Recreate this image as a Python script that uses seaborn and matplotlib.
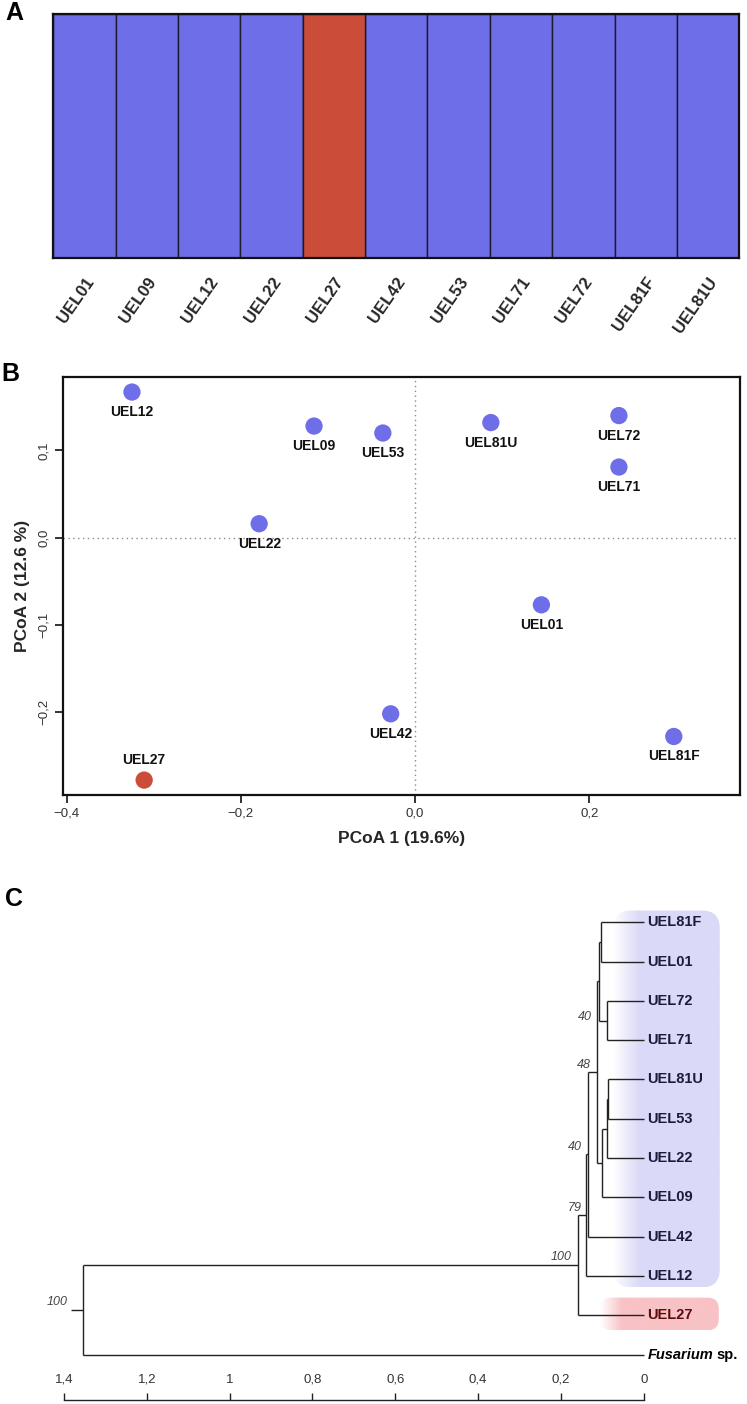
import numpy as np
import pandas as pd
import matplotlib.pyplot as plt
import seaborn as sns
from matplotlib.patches import FancyBboxPatch

BLUE = "#6E6EE8"
RED = "#CC4C3A"

# A: cluster membership per isolate (K=2)
samples = ["UEL01", "UEL09", "UEL12", "UEL22", "UEL27", "UEL42",
           "UEL53", "UEL71", "UEL72", "UEL81F", "UEL81U"]
q_blue = [1, 1, 1, 1, 0, 1, 1, 1, 1, 1, 1]
q_red  = [0, 0, 0, 0, 1, 0, 0, 0, 0, 0, 0]

# B: PCoA coordinates
pcoa_ids   = ["UEL12", "UEL09", "UEL53", "UEL81U", "UEL72", "UEL71",
              "UEL22", "UEL01", "UEL42", "UEL81F", "UEL27"]
pcoa1      = [-0.325, -0.116, -0.037, 0.087, 0.234, 0.234,
              -0.179, 0.145, -0.028, 0.297, -0.311]
pcoa2      = [0.167, 0.128, 0.120, 0.132, 0.140, 0.081,
              0.016, -0.077, -0.202, -0.228, -0.278]
pcoa_group = ["blue"] * 10 + ["red"]
labels_above = ["UEL27"]

# C: tree (leaf order top to bottom, internal nodes as pairs of children)
leaves = ["UEL81F", "UEL01", "UEL72", "UEL71", "UEL81U", "UEL53",
          "UEL22", "UEL09", "UEL42", "UEL12", "UEL27", "Fusarium sp."]
node_children = [("UEL81F", "UEL01"), ("UEL72", "UEL71"), ("n0", "n1"),
                 ("UEL81U", "UEL53"), ("n3", "UEL22"), ("n4", "UEL09"),
                 ("n2", "n5"), ("n6", "UEL42"), ("n7", "UEL12"),
                 ("n8", "UEL27"), ("n9", "Fusarium sp.")]
node_heights = [0.104, 0.090, 0.108, 0.087, 0.089, 0.101,
                0.113, 0.135, 0.140, 0.160, 1.353]
node_support = [None, 40, None, None, None, None, 48, 40, 79, 100, 100]
root_stub = 1.383
tree_ticks = [1.4, 1.2, 1.0, 0.8, 0.6, 0.4, 0.2, 0.0]
tree_ticklabels = ["1,4", "1,2", "1", "0,8", "0,6", "0,4", "0,2", "0"]

sns.set_theme(style="white")
plt.rcParams["font.family"] = ["Liberation Sans", "DejaVu Sans"]

W, H = 747, 1404
fig = plt.figure(figsize=(W / 100, H / 100), dpi=100)


def px_axes(left, top, right, bottom):
    return fig.add_axes([left / W, 1 - bottom / H, (right - left) / W, (bottom - top) / H])


ax_a = px_axes(53.3, 14, 739.3, 257.7)
ax_b = px_axes(62.7, 376.7, 740, 795)
ax_c = px_axes(0, 880, 747, 1400)

# ---------- A ----------
df_a = pd.DataFrame({"sample": samples, "blue": q_blue, "red": q_red})
df_a["total"] = df_a["blue"] + df_a["red"]
sns.barplot(data=df_a, x="sample", y="total", color=BLUE, saturation=1,
            width=1.0, edgecolor="#1a1a2a", linewidth=1.0, errorbar=None, ax=ax_a)
sns.barplot(data=df_a, x="sample", y="red", color=RED, saturation=1,
            width=1.0, edgecolor="#1a1a2a", linewidth=1.0, errorbar=None, ax=ax_a)
ax_a.set_xlim(-0.5, len(samples) - 0.5)
ax_a.set_ylim(0, 1)
ax_a.set_yticks([])
ax_a.set_xlabel("")
ax_a.set_ylabel("")
ax_a.tick_params(axis="x", length=0, pad=12)
plt.setp(ax_a.get_xticklabels(), rotation=55, ha="right", va="top",
         rotation_mode="anchor", fontweight="bold", fontsize=12)
for sp in ax_a.spines.values():
    sp.set_color("#111")
    sp.set_linewidth(1.6)

# ---------- B ----------
df_b = pd.DataFrame({"id": pcoa_ids, "pc1": pcoa1, "pc2": pcoa2, "group": pcoa_group})
ax_b.axhline(0, color="#8a8a8a", ls=(0, (1, 2.5)), lw=1, zorder=1)
ax_b.axvline(0, color="#8a8a8a", ls=(0, (1, 2.5)), lw=1, zorder=1)
sns.scatterplot(data=df_b, x="pc1", y="pc2", hue="group",
                palette={"blue": BLUE, "red": RED}, s=155, edgecolor="none",
                legend=False, ax=ax_b, zorder=3)
for _, r in df_b.iterrows():
    dy = 14.4 if r["id"] in labels_above else -14.4
    ax_b.annotate(r["id"], (r["pc1"], r["pc2"]), xytext=(0, dy),
                  textcoords="offset points", ha="center", va="center",
                  fontsize=10, fontweight="bold", color="#111")
ax_b.set_xlim(-0.4045, 0.373)
ax_b.set_ylim(-0.2951, 0.1846)
ax_b.set_xticks([-0.4, -0.2, 0.0, 0.2])
ax_b.set_xticklabels(["\u22120,4", "\u22120,2", "0,0", "0,2"])
ax_b.set_yticks([-0.2, -0.1, 0.0, 0.1])
ax_b.set_yticklabels(["\u22120,2", "\u22120,1", "0,0", "0,1"], rotation=90, va="center")
ax_b.tick_params(bottom=True, left=True, direction="out", length=5.5, width=1.2,
                 labelsize=9.5, labelcolor="#333", color="#111", pad=3.5)
ax_b.set_xlabel("PCoA 1 (19.6%)", fontsize=12.5, fontweight="bold", labelpad=8)
ax_b.set_ylabel("PCoA 2 (12.6 %)", fontsize=12.5, fontweight="bold", labelpad=6)
for sp in ax_b.spines.values():
    sp.set_color("#111")
    sp.set_linewidth(1.6)

# ---------- C ----------
ypos = {name: i for i, name in enumerate(leaves)}
xpos = {name: 0.0 for name in leaves}
line_kw = dict(color="#222", lw=1.0, solid_capstyle="butt", zorder=3)
for k, (a, b) in enumerate(node_children):
    name = f"n{k}"
    h = node_heights[k]
    ypos[name] = (ypos[a] + ypos[b]) / 2
    xpos[name] = h
    ax_c.plot([h, h], [ypos[a], ypos[b]], **line_kw)
    for c in (a, b):
        ax_c.plot([h, xpos[c]], [ypos[c], ypos[c]], **line_kw)
root = f"n{len(node_children) - 1}"
ax_c.plot([root_stub, xpos[root]], [ypos[root], ypos[root]], **line_kw)

# bootstrap values (offsets in points from each node)
support_offsets = {1: (-15.6, 2.5), 6: (-9.4, 5), 7: (-9.4, 5), 8: (-8, 5),
                   9: (-12, 6.2), 10: (-19, 6)}
for k, val in enumerate(node_support):
    if val is None:
        continue
    ox, oy = support_offsets[k]
    ax_c.annotate(str(val), (xpos[f"n{k}"], ypos[f"n{k}"]), xytext=(ox, oy),
                  textcoords="offset points", ha="center", va="center",
                  fontsize=9, fontstyle="italic", color="#444")

# leaf labels
leaf_colors = {"UEL27": "#5a0c0c", "Fusarium sp.": "#000"}
for name in leaves:
    col = leaf_colors.get(name, "#1c1c3a")
    if name == "Fusarium sp.":
        t1 = ax_c.annotate("Fusarium", (0, ypos[name]), xytext=(2.7, 0),
                           textcoords="offset points", ha="left", va="center",
                           fontsize=10.5, fontweight="bold", fontstyle="italic", color=col)
        ax_c.annotate("sp.", xy=(1, 0.5), xycoords=t1, xytext=(2.5, 0),
                      textcoords="offset points", ha="left", va="center",
                      fontsize=10.5, fontweight="bold", color=col)
    else:
        ax_c.annotate(name, (0, ypos[name]), xytext=(2.7, 0),
                      textcoords="offset points", ha="left", va="center",
                      fontsize=10.5, fontweight="bold", color=col)

# clade highlights with a fading left edge
px_x = 1 / 414.3   # data units per pixel (x)
px_y = 1 / 39.3    # data units per pixel (y)


def highlight(x_left_px, x_right_px, y_top, y_bot, color, radius_px, fade_px):
    x_left = x_left_px * px_x
    x_right = -x_right_px * px_x
    patch = FancyBboxPatch((x_right, y_top), x_left - x_right, y_bot - y_top,
                           boxstyle=f"round,pad=0,rounding_size={radius_px * px_x}",
                           mutation_aspect=px_y / px_x,
                           facecolor="none", edgecolor="none")
    ax_c.add_patch(patch)
    n = 300
    width_px = x_left_px + x_right_px
    dist = np.linspace(0, width_px, n)
    rgba = np.zeros((1, n, 4))
    rgba[..., :3] = plt.matplotlib.colors.to_rgb(color)
    rgba[0, :, 3] = np.clip(dist / fade_px, 0, 1)
    im = ax_c.imshow(rgba, extent=(x_left, x_right, y_bot, y_top), aspect="auto",
                     interpolation="bilinear", zorder=0)
    im.set_clip_path(patch)


highlight(30.5, 76, ypos["UEL81F"] - 0.30, ypos["UEL12"] + 0.29, "#DADAF8", 18, 26)
highlight(43.8, 75, ypos["UEL27"] - 0.45, ypos["UEL27"] + 0.38, "#F8C2C6", 11, 22)

ax_c.set_xlim(1.4 + 64 * px_x, -(747 - 643.8) * px_x)
ax_c.set_ylim(12.155, -1.076)
ax_c.set_yticks([])
ax_c.set_xticks(tree_ticks)
ax_c.set_xticklabels(tree_ticklabels)
ax_c.tick_params(axis="x", bottom=True, direction="in", length=5, width=1.0,
                 color="#222", pad=-19, labelsize=9.5, labelcolor="#333")
for side in ["top", "left", "right"]:
    ax_c.spines[side].set_visible(False)
ax_c.spines["bottom"].set_bounds(0, 1.4)
ax_c.spines["bottom"].set_color("#222")
ax_c.spines["bottom"].set_linewidth(1.0)
ax_c.patch.set_alpha(0)

# panel letters
for letter, (x, y) in {"A": (14, 13), "B": (10, 374), "C": (14, 899)}.items():
    fig.text(x / W, 1 - y / H, letter, ha="center", va="center",
             fontsize=18, fontweight="bold", color="#000")

fig.savefig("out.png", dpi=100)
